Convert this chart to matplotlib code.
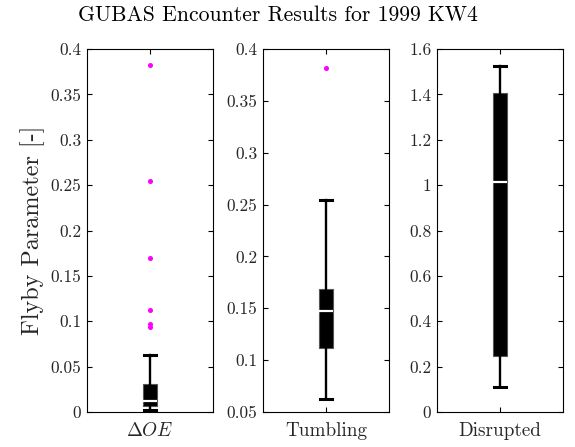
import matplotlib
matplotlib.use("Agg")
import matplotlib.pyplot as plt
from matplotlib.ticker import FixedLocator, FixedFormatter

plt.rcParams['font.family'] = ['cmr10']
plt.rcParams['mathtext.fontset'] = 'cm'
plt.rcParams['axes.unicode_minus'] = False

# ---- data ----
categories = [r'$\Delta OE$', 'Tumbling', 'Disrupted']
q1 = [0.0066, 0.112, 0.248]
med = [0.0125, 0.147, 1.015]
q3 = [0.0306, 0.169, 1.404]
whislo = [0.0025, 0.063, 0.110]
whishi = [0.063, 0.254, 1.527]
fliers = [[0.094, 0.097, 0.112, 0.170, 0.255, 0.382], [0.382], []]
ylims = [(0, 0.4), (0.05, 0.4), (0, 1.6)]
yticks = [[0, 0.05, 0.1, 0.15, 0.2, 0.25, 0.3, 0.35, 0.4],
          [0.05, 0.1, 0.15, 0.2, 0.25, 0.3, 0.35, 0.4],
          [0, 0.2, 0.4, 0.6, 0.8, 1, 1.2, 1.4, 1.6]]

W, H = 575, 447
fig = plt.figure(figsize=(W / 100, H / 100), dpi=100)
lefts = [87, 263, 437]
aw = 126
bottom_px, top_px = 412, 49
tc = '#262626'

for i in range(3):
    ax = fig.add_axes([lefts[i] / W, 1 - bottom_px / H, aw / W, (bottom_px - top_px) / H])
    stats = [dict(med=med[i], q1=q1[i], q3=q3[i], whislo=whislo[i], whishi=whishi[i],
                  fliers=fliers[i])]
    ax.bxp(stats, positions=[1], widths=0.11, patch_artist=True, capwidths=0.1,
           boxprops=dict(facecolor='black', edgecolor='#555555', linewidth=0.8),
           medianprops=dict(color='white', linewidth=1.6, solid_capstyle='butt'),
           whiskerprops=dict(color='black', linewidth=1.7),
           capprops=dict(color='black', linewidth=2.2),
           flierprops=dict(marker='o', markerfacecolor='magenta', markeredgecolor='magenta',
                           markersize=2.6, linestyle='none'),
           zorder=3)
    ax.set_xlim(0.5, 1.5)
    ax.set_ylim(*ylims[i])
    ax.yaxis.set_major_locator(FixedLocator(yticks[i]))
    ax.yaxis.set_major_formatter(FixedFormatter(['%g' % v for v in yticks[i]]))
    ax.set_xticks([1])
    ax.set_xticklabels([categories[i]], fontsize=13.8, color=tc)
    ax.tick_params(axis='both', direction='in', length=3.5, width=0.8,
                   top=True, right=True, colors='black', labelcolor=tc)
    ax.tick_params(axis='y', labelsize=12.5, pad=4)
    ax.tick_params(axis='x', pad=7.5)
    for s in ax.spines.values():
        s.set_linewidth(0.8)
    if i == 0:
        ax.set_ylabel('Flyby Parameter [-]', fontsize=17.4, color=tc, labelpad=4)

fig.text(278 / W, 1 - 21 / H, 'GUBAS Encounter Results for 1999 KW4',
         ha='center', va='baseline', fontsize=15.6, color='black')

fig.savefig('out.png', dpi=100)
